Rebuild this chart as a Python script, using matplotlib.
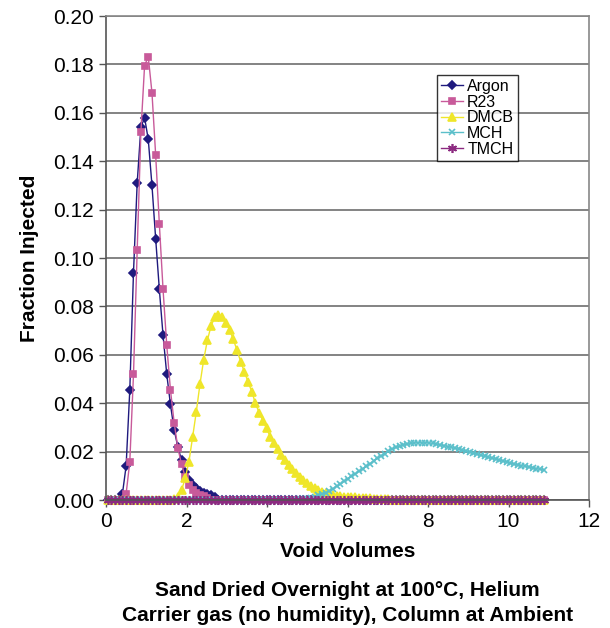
# plot.py - breakthrough curves, sand dried overnight

import matplotlib
matplotlib.use('Agg')
import matplotlib.pyplot as plt
import numpy as np

plt.rcParams['font.family'] = ['Liberation Sans', 'DejaVu Sans']

# sample grid (void volumes), 119 samples
n_samples = 119
void_volumes = 0.04 + 0.0918 * np.arange(n_samples)

argon = ([0.0] * 4 +
         [0.0025, 0.014, 0.0455, 0.094, 0.131, 0.154, 0.158, 0.149, 0.130,
          0.108, 0.087, 0.068, 0.052, 0.0395, 0.029, 0.022, 0.0165, 0.0117,
          0.0083, 0.0062, 0.0048, 0.0038, 0.003, 0.0024, 0.0019, 0.0012] +
         [0.0] * 89)

r23 = ([0.0] * 5 +
       [0.0025, 0.0158, 0.0519, 0.1033, 0.152, 0.1795, 0.1832, 0.1683,
        0.1426, 0.114, 0.087, 0.064, 0.0455, 0.032, 0.0216, 0.0147, 0.0096,
        0.0062, 0.0041, 0.0030, 0.0022, 0.0015, 0.0008] +
       [0.0] * 91)

dmcb = ([0.0] * 18 +
        [0.0005, 0.0014, 0.004, 0.009, 0.0158, 0.026, 0.0365, 0.048, 0.058,
         0.066, 0.072, 0.0755, 0.0765, 0.0758, 0.0733, 0.0703, 0.0664, 0.062,
         0.0572, 0.053, 0.0489, 0.0448, 0.040, 0.0361, 0.0328, 0.0296, 0.0262,
         0.0234, 0.0209, 0.0186, 0.0165, 0.0145, 0.0127, 0.011, 0.0096,
         0.0083, 0.0069, 0.0058, 0.0048, 0.0040, 0.0033, 0.0028, 0.0024,
         0.0021, 0.0018, 0.0016, 0.0014, 0.0013, 0.0012, 0.0011, 0.0010,
         0.0009, 0.0008, 0.0007, 0.0006, 0.0005, 0.0005, 0.0004, 0.0003,
         0.0002, 0.0001] +
        [0.0] * 40)

mch = ([0.0] * 50 +
       [0.0001, 0.0002, 0.0003, 0.0004, 0.0006, 0.0008, 0.0014, 0.0019,
        0.0024, 0.003, 0.0038, 0.0047, 0.0057, 0.0066, 0.0077, 0.0088,
        0.0098, 0.0108, 0.0118, 0.0128, 0.0139, 0.015, 0.0161, 0.0172,
        0.0182, 0.0192, 0.0202, 0.021, 0.0217, 0.0223, 0.0227, 0.0231,
        0.0234, 0.0236, 0.0237, 0.0237, 0.0237, 0.0236, 0.0234, 0.0231,
        0.0228, 0.0225, 0.0221, 0.0218, 0.0214, 0.021, 0.0206, 0.0202,
        0.0198, 0.0194, 0.0189, 0.0185, 0.0181, 0.0177, 0.0173, 0.0169,
        0.0165, 0.0161, 0.0157, 0.0153, 0.0149, 0.0145, 0.0142, 0.0139,
        0.0136, 0.0133, 0.013, 0.0127, 0.0124])

tmch = [0.0] * n_samples

series = [
    ('Argon', argon, '#1f1a7e', 'D', 3.8),
    ('R23', r23, '#c85a9a', 's', 4.8),
    ('DMCB', dmcb, '#efe62a', '^', 5.4),
    ('MCH', mch, '#5bbfca', 'x', 4.5),
    ('TMCH', tmch, '#8c2a80', (6, 2, 0), 6.5),
]

fig = plt.figure(figsize=(6.10, 6.28), dpi=100)
ax = fig.add_axes([0.1738, 0.2038, 0.7918, 0.7707])

for name, vals, color, marker, ms in series:
    ax.plot(void_volumes, vals, color=color, lw=1.0, marker=marker,
            markersize=ms, markeredgewidth=1.2, markerfacecolor=color,
            markeredgecolor=color, label=name, clip_on=False)

ax.set_xlim(0, 12)
ax.set_ylim(0, 0.20)
ax.set_xticks(np.arange(0, 13, 2))
ax.set_yticks(np.arange(0, 0.201, 0.02))
ax.set_yticklabels(['%.2f' % v for v in np.arange(0, 0.201, 0.02)])
ax.yaxis.grid(True, color='#7a7a7a', lw=1.3)
ax.set_axisbelow(True)
ax.tick_params(labelsize=15, length=5, width=1, color='#555555',
               direction='out')
for side in ['left', 'bottom']:
    ax.spines[side].set_color('#555555')
for side in ['right', 'top']:
    ax.spines[side].set_color('#888888')
for sp in ax.spines.values():
    sp.set_linewidth(1.2)

ax.set_xlabel('Void Volumes', fontsize=15, fontweight='bold', labelpad=8)
ax.set_ylabel('Fraction Injected', fontsize=15, fontweight='bold', labelpad=10)

fig.text(0.57, 0.040, 'Sand Dried Overnight at 100°C, Helium\n'
         'Carrier gas (no humidity), Column at Ambient',
         ha='center', va='center', fontsize=15, fontweight='bold',
         linespacing=1.38)

leg = ax.legend(loc='upper left', bbox_to_anchor=(0.685, 0.878),
                fontsize=11.5, frameon=True, fancybox=False, shadow=False,
                handlelength=1.4, handletextpad=0.25, labelspacing=0.04,
                borderpad=0.25, borderaxespad=0)
leg.get_frame().set_edgecolor('black')
leg.get_frame().set_linewidth(1.0)

fig.savefig('out.png', dpi=100)
